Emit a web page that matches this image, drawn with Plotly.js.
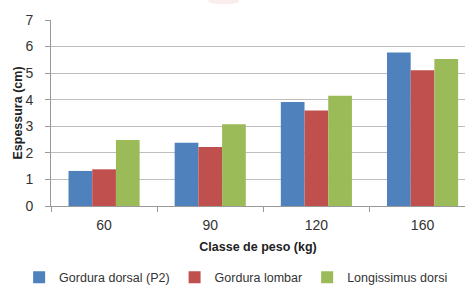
<!DOCTYPE html>
<html><head><meta charset="utf-8">
<script src="https://cdn.plot.ly/plotly-3.0.1.min.js"></script>
<style>html,body{margin:0;padding:0;background:#fff;}#chart{width:465px;height:287px;}</style>
</head><body><div id="chart"></div>
<script>
const categories = ['60', '90', '120', '160'];
const seriesNames = ['Gordura dorsal (P2)', 'Gordura lombar', 'Longissimus dorsi'];
const dorsalP2 = [1.32, 2.38, 3.91, 5.78];
const lombar = [1.38, 2.22, 3.59, 5.11];
const longissimus = [2.48, 3.08, 4.15, 5.53];
const yTicks = [0, 1, 2, 3, 4, 5, 6, 7];
const colors = ['#4F81BD', '#C0504D', '#9BBB59'];

const values = [dorsalP2, lombar, longissimus];
const traces = values.map((v, i) => ({
  type: 'bar', x: categories, y: v, name: seriesNames[i],
  marker: {color: colors[i], line: {width: 0}}, hoverinfo: 'none'
}));
const font = {family: 'Liberation Sans, Arial, sans-serif', color: '#333'};
const layout = {
  width: 465, height: 287,
  margin: {l: 51, r: 0, t: 20, b: 81, autoexpand: false},
  paper_bgcolor: '#fff', plot_bgcolor: '#fff',
  font: font,
  barmode: 'group', bargap: 0.33, bargroupgap: 0,
  showlegend: true,
  legend: {orientation: 'h', x: -0.077, xanchor: 'left', y: -0.385, yanchor: 'middle',
    font: {size: 12.5, color: '#333', family: font.family}, itemwidth: 30, traceorder: 'normal'},
  xaxis: {type: 'category', range: [-0.5, 3.4], tickson: 'boundaries', ticks: 'outside', ticklen: 5,
    tickcolor: '#999', showline: true, linecolor: '#999', linewidth: 1, showgrid: false,
    tickfont: {size: 14, color: '#333'}, ticklabelstandoff: 6,
    title: {text: '<b>Classe de peso (kg)</b>', font: {size: 12.5, color: '#222'}, standoff: 10}},
  yaxis: {range: [0, 7], tickvals: yTicks, ticks: 'outside', ticklen: 5, tickcolor: '#999',
    showline: true, linecolor: '#999', linewidth: 1, gridcolor: '#bdbdbd', gridwidth: 1,
    zeroline: false, tickfont: {size: 14, color: '#333'}, ticklabelstandoff: 9,
    title: {text: '<b>Espessura (cm)</b>', font: {size: 12.5, color: '#222'}, standoff: 0}},
  shapes: [{type: 'circle', xref: 'paper', yref: 'paper', x0: 0.38, x1: 0.455, y0: 1.085, y1: 1.12,
    fillcolor: 'rgba(230,175,175,0.22)', line: {width: 0}, layer: 'above'}]
};
Plotly.newPlot('chart', traces, layout, {staticPlot: true, displayModeBar: false});
</script></body></html>
